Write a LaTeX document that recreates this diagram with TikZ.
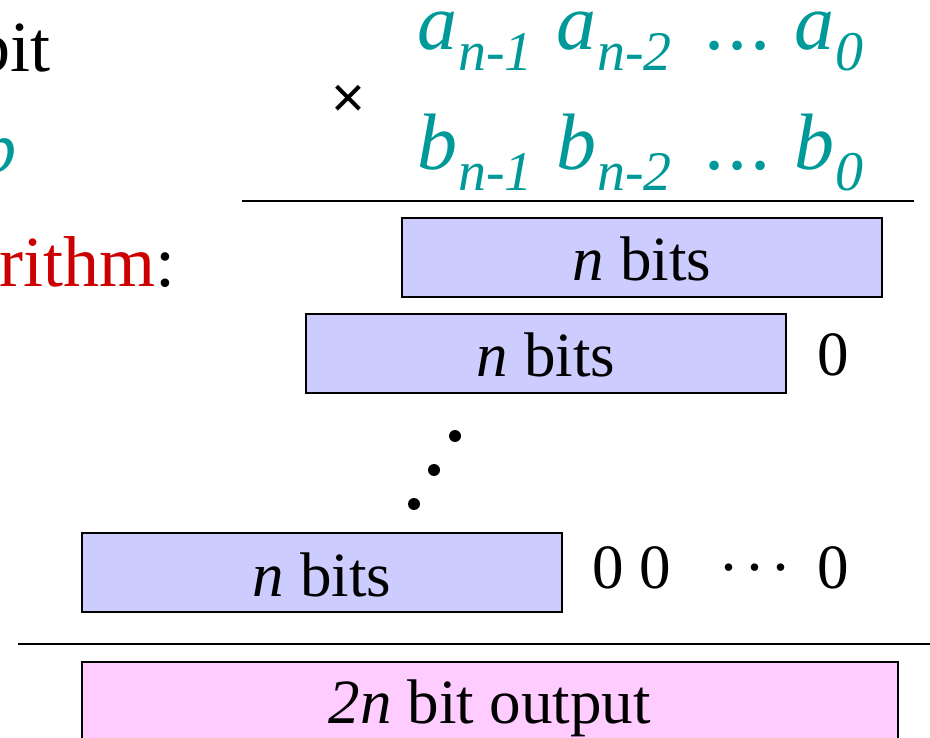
\documentclass[tikz,border=0pt]{standalone}
\usepackage{fontspec}
\setmainfont{Liberation Serif}
\newfontfamily\timessans{Liberation Sans}
\definecolor{numteal}{HTML}{009999}
\definecolor{algred}{HTML}{CC0000}
\definecolor{rowblue}{HTML}{CCCCFF}
\definecolor{outpink}{HTML}{FFCCFF}
\newcommand{\bigfont}{\fontsize{80}{84}\selectfont}
\newcommand{\boxfont}{\fontsize{63}{70}\selectfont}
\newcommand{\subidx}[1]{\kern1pt\raisebox{-21pt}{\fontsize{56}{58}\selectfont #1}}
\newcommand{\lowdots}{\textperiodcentered\kern5pt\textperiodcentered\kern5pt\textperiodcentered}
\tikzset{
  rowbox/.style={draw, line width=2pt, fill=rowblue, inner sep=0pt,
    minimum width=480pt, minimum height=79pt,
    text height=63pt, text depth=16pt, font=\boxfont},
  digit/.style={anchor=base west, inner sep=0pt, font=\boxfont},
  term/.style={anchor=base west, inner sep=0pt, text=numteal, font=\bigfont\itshape},
  rule/.style={line width=2pt}
}
\begin{document}
\begin{tikzpicture}[x=1pt, y=-1pt]
  \useasboundingbox (0,0) rectangle (930,738);
  \clip (0,0) rectangle (930,738);

  % text on the left, cut by the frame
  \node[anchor=base east, inner sep=0pt, font=\fontsize{72}{76}\selectfont] (lbit) at (51,72) {bit};
  \node[anchor=base east, inner sep=0pt, text=numteal, font=\fontsize{72}{76}\selectfont\itshape] (lb) at (17,173) {b};
  \node[anchor=base west, inner sep=0pt, font=\fontsize{72}{76}\selectfont] (lalg) at (-1,287) {\textcolor{algred}{rithm}:};

  % the two factors
  \node[anchor=center, inner sep=0pt, font=\timessans\fontsize{58}{58}\selectfont] (times) at (348,101) {×};
  \node[term] (a1) at (417,50) {a\subidx{n-1}};
  \node[term] (a2) at (556,50) {a\subidx{n-2}};
  \node[term] (adots) at (706,50) {.\kern3pt.\kern3pt.};
  \node[term] (a0) at (794,50) {a\subidx{0}};
  \node[term] (b1) at (417,170) {b\subidx{n-1}};
  \node[term] (b2) at (556,170) {b\subidx{n-2}};
  \node[term] (bdots) at (706,170) {.\kern3pt.\kern3pt.};
  \node[term] (b0) at (794,170) {b\subidx{0}};
  \coordinate (r1a) at (242,201);
  \coordinate (r1b) at (914,201);
  \draw[rule] (r1a) -- (r1b);

  % partial products
  \node[rowbox] (p1) at (642,257.5) {\textit{n} bits};
  \node[rowbox] (p2) at (546,353.5) {\textit{n} bits};
  \node[digit] (z21) at (817,375) {0};
  \fill (455,436) circle (6);
  \fill (434,470) circle (6);
  \fill (414,504) circle (6);
  \node[rowbox] (p3) at (322,572.5) {\textit{n} bits};
  \node[digit] (z31) at (592,588) {0 0};
  \node[digit] (zdots) at (718,588) {\lowdots};
  \node[digit] (z3n) at (817,588) {0};

  % sum
  \coordinate (r2a) at (18,644);
  \coordinate (r2b) at (932,644);
  \draw[rule] (r2a) -- (r2b);
  \node[draw, line width=2pt, fill=outpink, inner sep=0pt, anchor=north,
    minimum width=816pt, minimum height=101pt,
    text height=61pt, text depth=40pt, font=\boxfont] (out) at (490,661) {\textit{2n} bit output};
\end{tikzpicture}
\end{document}
